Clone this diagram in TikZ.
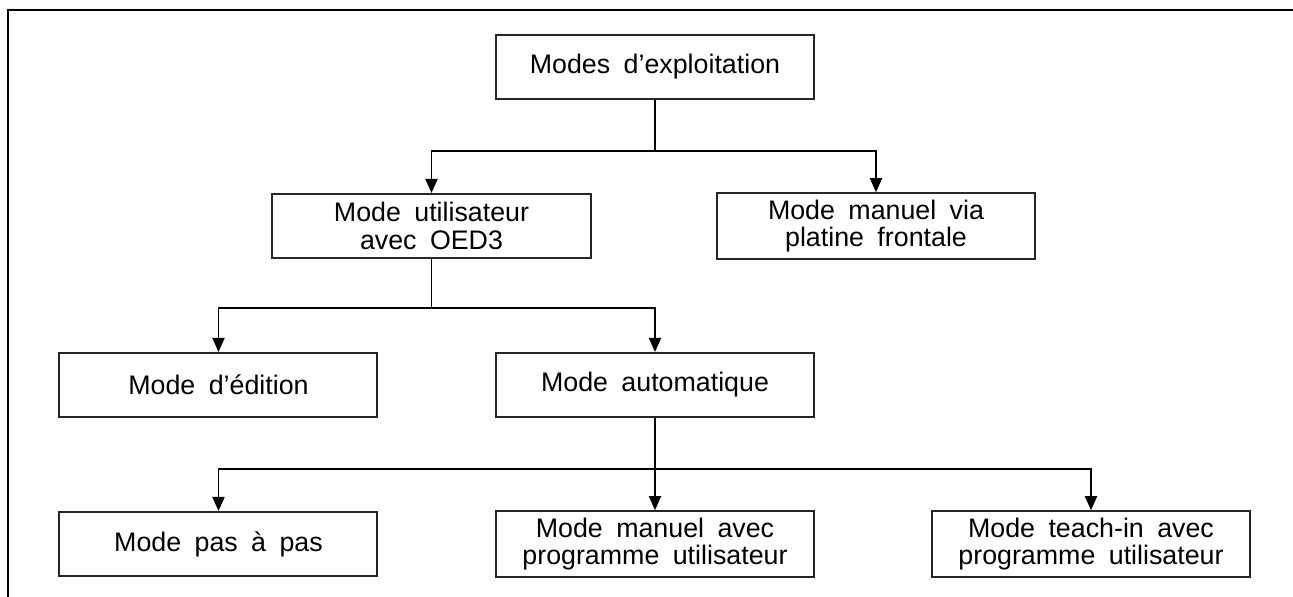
\documentclass[tikz,border=0pt]{standalone}
\usepackage{fontspec}
\setmainfont{Liberation Sans}[WordSpace=1.8]
\usetikzlibrary{arrows.meta,positioning}

\begin{document}
\begin{tikzpicture}[node distance = 79.5pt, on grid,
                    box/.style = {draw=black!85, line width=1pt, minimum width=159pt, minimum height=32pt,
                                  align=center, font=\fontsize{13.4}{13.6}\selectfont},
                    arr/.style = {-{Triangle[length=7pt, width=6pt]}, line width=0.9pt}]
                \useasboundingbox (-327.5pt,33.5pt) rectangle (319pt,-265pt);
                % cadre (bord gauche et haut)
                \draw[line width=1.1pt] (-323.5pt,-265pt) -- (-323.5pt,28.5pt) -- (319pt,28.5pt);

                \node[box]                                      (m_expl)  {Modes d'exploitation};
                \node[box, below left = 79.5pt and 111.75pt of m_expl]  (m_util)  {Mode utilisateur\\avec OED3};
                \node[box, below right = 79.5pt and 110.5pt of m_expl]  (m_man)   {Mode manuel via\\platine frontale};
                \node[box, below left = 79.5pt and 106.5pt of m_util]   (m_edit)  {Mode d'édition};
                \node[box, below right = 79.5pt and 111.75pt of m_util] (m_auto)  {Mode automatique};
                \node[box, below = of m_edit]                   (m_pas)   {Mode pas à pas};
                \node[box, below = of m_auto]                   (m_prog)  {Mode manuel avec\\programme utilisateur};
                \node[box, right = 218pt of m_prog]             (m_teach) {Mode teach-in avec\\programme utilisateur};

                \draw[arr] (m_expl.south) -- ++(0,-25.5pt) -| (m_util.north);
                \draw[arr] (m_expl.south) -- ++(0,-25.5pt) -| (m_man.north);
                \draw[arr] (m_util.south) -- ++(0,-24.5pt) -| (m_edit.north);
                \draw[arr] (m_util.south) -- ++(0,-24.5pt) -| (m_auto.north);
                \draw[arr] (m_auto.south) -- ++(0,-25.5pt) -| (m_pas.north);
                \draw[arr] (m_auto.south) -- (m_prog.north);
                \draw[arr] (m_auto.south) -- ++(0,-25.5pt) -| (m_teach.north);
\end{tikzpicture}
\end{document}
